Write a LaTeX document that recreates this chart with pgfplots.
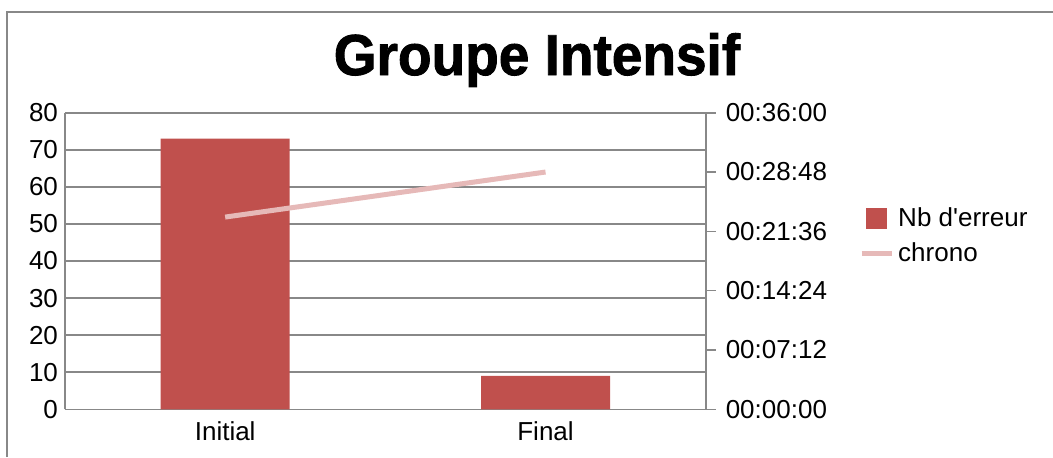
\documentclass[border=0pt]{standalone}
\usepackage{pgfplots}
\pgfplotsset{compat=1.18}
\usepackage{fontspec}
\setmainfont{Liberation Sans}
\newfontfamily\titlefont{Liberation Sans}[BoldFont={Liberation Sans Bold}, BoldFeatures={FakeBold=1.6}]
\definecolor{barred}{HTML}{C0504D}
\definecolor{linepink}{HTML}{E6B9B8}
\definecolor{axgray}{HTML}{888888}
\pgfplotsset{
  sqlegend/.style={legend image code/.code={\fill[barred] (0pt,-5pt) rectangle (10pt,5pt);}},
  lnlegend/.style={legend image code/.code={\draw[##1] (-2.5pt,0pt) -- (12.5pt,0pt);}},
}

\begin{document}
\begin{tikzpicture}
\useasboundingbox (0,0) rectangle (526.5pt,228.5pt);
\draw[axgray, line width=0.8pt] (3.5pt,0) -- (3.5pt,222.5pt) -- (526.5pt,222.5pt);
\node[anchor=base, inner sep=0pt, font=\titlefont\bfseries\fontsize{27.5pt}{30pt}\selectfont, yscale=1.05] at (268.5pt,191pt) {Groupe Intensif};

\pgfplotsset{every axis/.append style={
  scale only axis, width=320.35pt, height=148.3pt,
  at={(32.5pt,23.85pt)}, anchor=south west,
  xmin=-0.5, xmax=1.5,
  font=\fontsize{13pt}{15pt}\selectfont,
  /pgf/number format/assume math mode=true,
  axis line style={axgray, line width=0.8pt},
}}

\begin{axis}[
  axis x line*=bottom, axis y line*=left,
  ymin=0, ymax=80, ytick={0,10,...,80},
  ymajorgrids, grid style={axgray, line width=0.8pt},
  xtick={0,1}, xticklabels={Initial,Final},
  major tick length=0pt,
  xticklabel style={yshift=-2.5pt},
]
\addplot[ybar, bar width=64.5pt, fill=barred, draw=none] coordinates {(0,73) (1,9)};
\end{axis}

\begin{axis}[
  axis x line=none, axis y line*=right,
  ymin=0, ymax=2160, ytick={0,432,864,1296,1728,2160},
  yticklabels={00:00:00,00:07:12,00:14:24,00:21:36,00:28:48,00:36:00},
  yticklabel style={xshift=1.5pt},
  tick align=outside, major tick length=5pt, tick style={axgray, line width=0.8pt},
  legend style={at={(1.239,0.585)}, anchor=west, draw=none, fill=none,
    font=\fontsize{13pt}{15pt}\selectfont, row sep=2.5pt, inner sep=0pt},
  legend cell align=left,
]
\addlegendimage{sqlegend}
\addlegendentry{Nb d\textquotesingle erreur}
\addplot[linepink, line width=2.5pt, lnlegend] coordinates {(0,1400) (1,1728)};
\addlegendentry{chrono}
\end{axis}
\end{tikzpicture}
\end{document}
